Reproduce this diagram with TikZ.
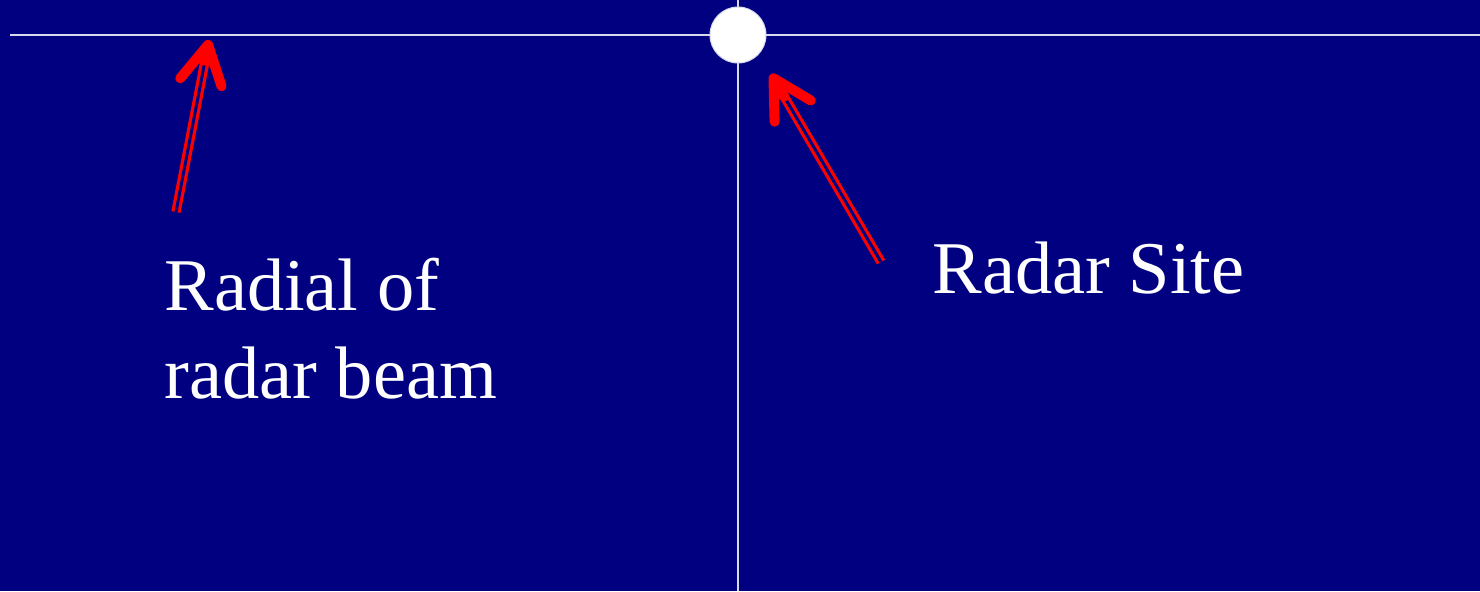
\documentclass[tikz,border=0pt]{standalone}
\usepackage{fontspec}
\setmainfont{Liberation Serif}
\usepackage{xcolor}
\usetikzlibrary{arrows.meta,calc}
\definecolor{radarbg}{HTML}{000080}
\definecolor{gridline}{HTML}{D8D8EC}

\begin{document}
\begin{tikzpicture}[
  x=0.5pt, y=-0.5pt,
  label/.style={text=white, align=left, inner sep=0pt,
                font=\fontsize{37.2}{44}\selectfont},
  site/.style={circle, fill=white, draw=gridline, line width=0.5pt,
               minimum size=28pt, inner sep=0pt},
  axis/.style={gridline, line width=1pt},
  beam/.style={red, line width=1.6pt, double=radarbg, double distance=1.5pt,
               shorten >=3pt},
  beamtip/.style={red, line width=5pt, line cap=round,
                  -{Straight Barb[length=19pt, width=21pt, line width=5pt, round]}},
]

% background
\fill[radarbg] (0,0) rectangle (1480,591);
\useasboundingbox (0,0) rectangle (1480,591);

% axes through the radar site
\coordinate (west) at (10,35);
\coordinate (east) at (1480,35);
\coordinate (north) at (738,0);
\coordinate (south) at (738,591);
\draw[axis] (west) -- (east);
\draw[axis] (north) -- (south);

% radar site
\node[site] (site) at (738,35) {};

% labels
\node[label, anchor=base west] (radial) at (164,398) {Radial of\\radar beam};
\node[label, anchor=base west] (sitelbl) at (932,293) {Radar Site};

% arrows
\coordinate (radtail) at (176,212);
\coordinate (radtip) at (209,40);
\coordinate (sitetail) at (881,262);
\coordinate (sitetip) at (771,74);
\draw[beam] (radtail) -- (radtip);
\draw[beamtip] ($(radtip)!0.12!(radtail)$) -- (radtip);
\draw[beam] (sitetail) -- (sitetip);
\draw[beamtip] ($(sitetip)!0.12!(sitetail)$) -- (sitetip);

\end{tikzpicture}
\end{document}
